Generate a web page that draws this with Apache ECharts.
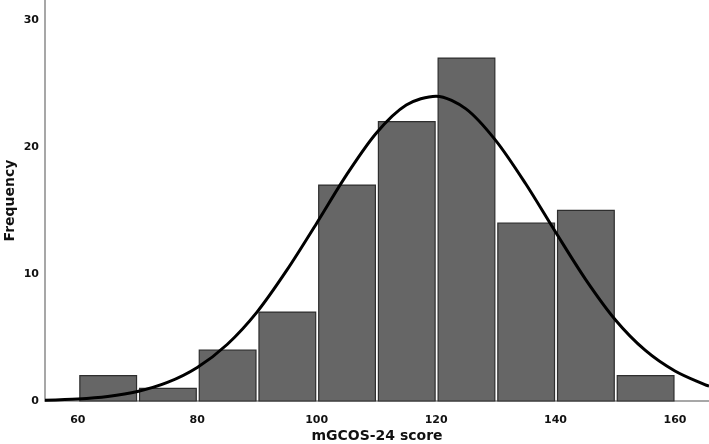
<!DOCTYPE html>
<html>
<head>
<meta charset="utf-8">
<script src="https://cdn.jsdelivr.net/npm/echarts@6/dist/echarts.min.js"></script>
<style>
  html, body { margin: 0; padding: 0; background: #fff; }
  #chart { width: 709px; height: 444px; }
</style>
</head>
<body>
<div id="chart"></div>
<script>
  // histogram bins (score ranges) and their frequencies
  var binStart = [60, 70, 80, 90, 100, 110, 120, 130, 140, 150];
  var binEnd = [70, 80, 90, 100, 110, 120, 130, 140, 150, 160];
  var counts = [2, 1, 4, 7, 17, 22, 27, 14, 15, 2];

  // fitted normal curve
  var curveX = [54.5, 60, 65, 70, 75, 80, 85, 90, 95, 100, 105, 110, 115, 120, 125, 130, 135, 140, 145, 150, 155, 160, 165, 165.7];
  var curveY = [0.06, 0.16, 0.36, 0.75, 1.46, 2.64, 4.45, 7.0, 10.3, 14.0, 17.8, 21.1, 23.3, 24.0, 23.0, 20.5, 17.1, 13.3, 9.6, 6.4, 4.0, 2.36, 1.28, 1.18];

  var xTicks = [60, 80, 100, 120, 140, 160];

  var myCharts = echarts.init(document.getElementById('chart'));

  var barData = binStart.map(function (s, i) {
    return [s, binEnd[i], counts[i]];
  });
  var curveData = curveX.map(function (x, i) {
    return [x, curveY[i]];
  });

  var font = 'DejaVu Sans';

  var option = {
    animation: false,
    grid: { left: 45, right: 0, top: 0, bottom: 43, containLabel: false, outerBoundsMode: 'none' },
    xAxis: {
      type: 'value',
      min: 54.5,
      max: 165.7,
      name: 'mGCOS-24 score',
      nameLocation: 'middle',
      nameGap: 28,
      nameMoveOverlap: false,
      nameTextStyle: { fontFamily: font, fontWeight: 'bold', fontSize: 14, color: '#111' },
      axisLine: { show: true, lineStyle: { color: '#8a8a8a', width: 1.5 } },
      axisTick: { show: false },
      splitLine: { show: false },
      axisLabel: {
        customValues: xTicks,
        margin: 14,
        fontFamily: font, fontWeight: 'bold', fontSize: 11, color: '#111'
      }
    },
    yAxis: {
      type: 'value',
      min: 0,
      max: 31.57,
      interval: 10,
      name: 'Frequency',
      nameLocation: 'middle',
      nameGap: 28,
      nameMoveOverlap: false,
      nameTextStyle: { fontFamily: font, fontWeight: 'bold', fontSize: 14, color: '#111' },
      axisLine: { show: true, lineStyle: { color: '#8a8a8a', width: 1.5 } },
      axisTick: { show: false },
      splitLine: { show: false },
      axisLabel: {
        margin: 6,
        fontFamily: font, fontWeight: 'bold', fontSize: 11, color: '#111',
        formatter: function (v) { return v % 10 === 0 ? String(v) : ''; }
      }
    },
    series: [{
      type: 'custom',
      data: barData,
      encode: { x: [0, 1], y: 2 },
      renderItem: function (params, api) {
        var top = api.coord([api.value(0), api.value(2)]);
        var bot = api.coord([api.value(1), 0]);
        return {
          type: 'rect',
          shape: { x: top[0] + 2, y: top[1], width: bot[0] - top[0] - 3, height: bot[1] - top[1] },
          style: { fill: '#666666', stroke: '#2e2e2e', lineWidth: 1.2 }
        };
      }
    }, {
      type: 'line',
      data: curveData,
      smooth: 0.3,
      symbol: 'none',
      clip: true,
      lineStyle: { color: '#000', width: 3 }
    }]
  };
  myCharts.setOption(option);
</script>
</body>
</html>
